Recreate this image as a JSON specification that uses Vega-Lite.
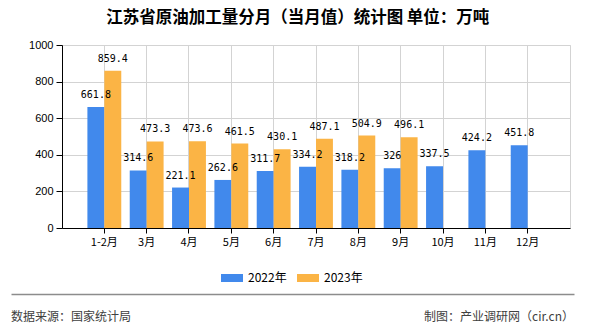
{
  "$schema": "https://vega.github.io/schema/vega-lite/v6.json",
  "background": "white",
  "padding": {"left": 10, "top": 10, "right": 10, "bottom": 0},
  "title": {
    "text": "江苏省原油加工量分月（当月值）统计图 单位：万吨",
    "font": "Noto Sans CJK SC",
    "fontSize": 16.5,
    "fontWeight": "bold",
    "color": "#000000",
    "anchor": "middle",
    "dx": -20,
    "offset": 12
  },
  "config": {"view": {"stroke": null}},
  "columns": 1,
  "spacing": 46,
  "concat": [
    {
      "width": 508,
      "height": 183,
      "view": {"stroke": "#d3d3d3"},
      "data": {
        "values": [
          {"month": "1-2月", "year": "2022年", "value": 661.8},
          {"month": "1-2月", "year": "2023年", "value": 859.4},
          {"month": "3月", "year": "2022年", "value": 314.6},
          {"month": "3月", "year": "2023年", "value": 473.3},
          {"month": "4月", "year": "2022年", "value": 221.1},
          {"month": "4月", "year": "2023年", "value": 473.6},
          {"month": "5月", "year": "2022年", "value": 262.6},
          {"month": "5月", "year": "2023年", "value": 461.5},
          {"month": "6月", "year": "2022年", "value": 311.7},
          {"month": "6月", "year": "2023年", "value": 430.1},
          {"month": "7月", "year": "2022年", "value": 334.2},
          {"month": "7月", "year": "2023年", "value": 487.1},
          {"month": "8月", "year": "2022年", "value": 318.2},
          {"month": "8月", "year": "2023年", "value": 504.9},
          {"month": "9月", "year": "2022年", "value": 326},
          {"month": "9月", "year": "2023年", "value": 496.1},
          {"month": "10月", "year": "2022年", "value": 337.5},
          {"month": "11月", "year": "2022年", "value": 424.2},
          {"month": "12月", "year": "2022年", "value": 451.8}
        ]
      },
      "encoding": {
        "x": {
          "field": "month",
          "type": "nominal",
          "sort": null,
          "scale": {"paddingInner": 0.2, "paddingOuter": 0.6},
          "axis": {
            "title": null,
            "labelAngle": 0,
            "grid": true,
            "gridColor": "#d3d3d3",
            "domainColor": "#000000",
            "tickColor": "#000000",
            "tickSize": 5,
            "labelColor": "#000000",
            "labelFont": "Noto Sans CJK SC",
            "labelFontSize": 11,
            "labelPadding": 3
          }
        },
        "xOffset": {"field": "year", "type": "nominal", "sort": ["2022年", "2023年"]},
        "y": {
          "field": "value",
          "type": "quantitative",
          "scale": {"domain": [0, 1000]},
          "axis": {
            "title": null,
            "values": [0, 200, 400, 600, 800, 1000],
            "format": "d",
            "domainColor": "#000000",
            "tickColor": "#000000",
            "tickSize": 6,
            "labelPadding": 3,
            "labelColor": "#000000",
            "labelFont": "Liberation Sans",
            "labelFontSize": 11,
            "gridColor": "#d3d3d3",
            "minExtent": 51
          }
        }
      },
      "layer": [
        {
          "mark": {"type": "bar"},
          "encoding": {
            "color": {
              "field": "year",
              "type": "nominal",
              "scale": {"domain": ["2022年", "2023年"], "range": ["#4189EC", "#FBB445"]},
              "legend": {
                "orient": "none",
                "legendX": 159,
                "legendY": 222,
                "direction": "horizontal",
                "title": null,
                "symbolType": "M-1,-0.3636H1V0.3636H-1Z",
                "symbolSize": 484,
                "symbolStrokeWidth": 0,
                "symbolOpacity": 1,
                "labelFont": "Noto Sans CJK SC",
                "labelFontSize": 12,
                "labelColor": "#000000",
                "labelOffset": 5,
                "columnPadding": 10
              }
            }
          }
        },
        {
          "mark": {
            "type": "text",
            "baseline": "alphabetic",
            "dy": -9,
            "font": "DejaVu Sans Mono",
            "fontSize": 10,
            "color": "#000000"
          },
          "encoding": {"text": {"field": "value", "type": "quantitative"}}
        }
      ]
    },
    {
      "width": 508,
      "height": 30,
      "data": {
        "values": [
          {"side": "left", "label": "数据来源：国家统计局"},
          {"side": "right", "label": "制图：产业调研网（cir.cn）"}
        ]
      },
      "encoding": {
        "x": {
          "field": "side",
          "type": "nominal",
          "scale": {"type": "point", "padding": 0, "domain": ["left", "right"], "range": [-51, 512]},
          "axis": {
            "orient": "top",
            "title": null,
            "labels": false,
            "ticks": false,
            "grid": false,
            "domainColor": "#8c8c8c",
            "domainWidth": 1.5
          }
        }
      },
      "layer": [
        {
          "transform": [{"filter": "datum.side == 'left'"}],
          "mark": {"type": "text", "align": "left", "dy": 8, "font": "Noto Sans CJK SC", "fontSize": 12, "color": "#404040"},
          "encoding": {"text": {"field": "label", "type": "nominal"}}
        },
        {
          "transform": [{"filter": "datum.side == 'right'"}],
          "mark": {"type": "text", "align": "right", "dy": 8, "font": "Noto Sans CJK SC", "fontSize": 12, "color": "#404040"},
          "encoding": {"text": {"field": "label", "type": "nominal"}}
        }
      ]
    }
  ]
}
